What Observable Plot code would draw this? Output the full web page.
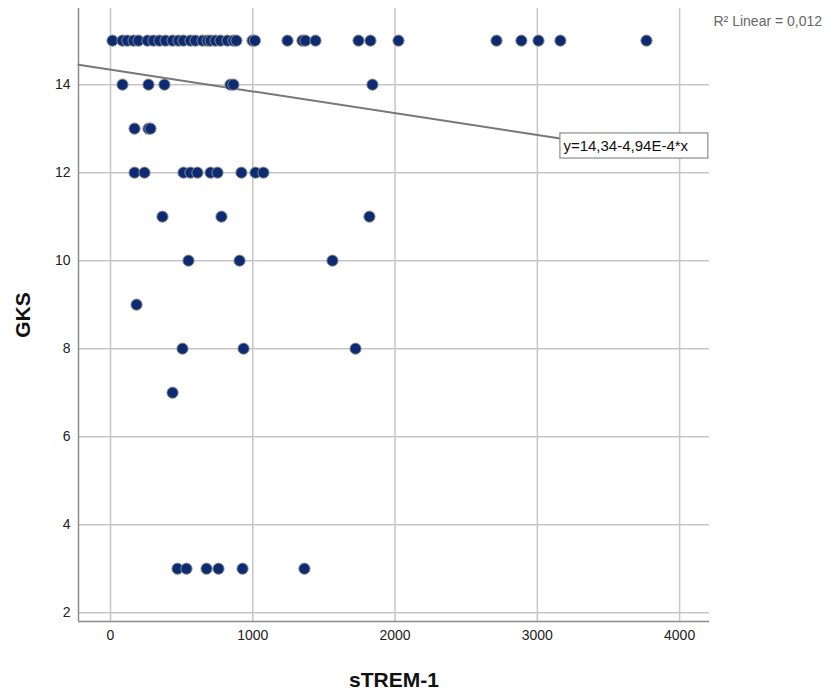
<!DOCTYPE html>
<html>
<head>
<meta charset="utf-8">
<script src="https://cdn.jsdelivr.net/npm/d3@7"></script>
<script src="https://cdn.jsdelivr.net/npm/@observablehq/plot@0.6"></script>
<style>
  html, body { margin: 0; padding: 0; background: #fff; }
  #chart { position: relative; width: 836px; height: 693px; }
</style>
</head>
<body>
<div id="chart"></div>
<script>
// ---- data ----
const strem = [
  // GKS 15
  14, 84, 119, 162, 197, 260, 302, 344, 387, 436, 478, 513, 562, 597, 647, 682, 703, 738, 773, 822, 864, 885,
  998, 1015, 1244, 1349, 1370, 1441, 1743, 1827, 2024, 2713, 2888, 3008, 3162, 3767,
  // GKS 14
  84, 267, 379, 843, 864, 1841,
  // GKS 13
  169, 267, 281,
  // GKS 12
  169, 239, 513, 562, 611, 703, 752, 920, 1019, 1075,
  // GKS 11
  365, 780, 1820,
  // GKS 10
  548, 907, 1560,
  // GKS 9
  183,
  // GKS 8
  506, 935, 1722,
  // GKS 7
  436,
  // GKS 3
  471, 534, 675, 759, 928, 1363
];
const gks = [
  15,15,15,15,15,15,15,15,15,15,15,15,15,15,15,15,15,15,15,15,15,15,
  15,15,15,15,15,15,15,15,15,15,15,15,15,15,
  14,14,14,14,14,14,
  13,13,13,
  12,12,12,12,12,12,12,12,12,12,
  11,11,11,
  10,10,10,
  9,
  8,8,8,
  7,
  3,3,3,3,3,3
];
const xTicks = [0, 1000, 2000, 3000, 4000];
const yTicks = [2, 4, 6, 8, 10, 12, 14];
const xDomain = [-225, 4210];
const yDomain = [1.8, 15.73];
const fitIntercept = 14.34;
const fitSlope = -4.94e-4;
const fitLabel = "y=14,34-4,94E-4*x";
const fitLabelX = 3162;        // where the fit line meets its label box
const r2Label = "R\u00B2 Linear = 0,012";
const xTitle = "sTREM-1";
const yTitle = "GKS";

const points = strem.map((s, i) => ({strem: s, gks: gks[i]}));
const fitLine = [xDomain[0], fitLabelX].map(x => ({x, y: fitIntercept + fitSlope * x}));
const labelBox = [{x1: fitLabelX, x2: 4202, y1: 12.32, y2: 12.89, text: fitLabel, tx: fitLabelX + 15, ty: 12.605}];

const font = "'Liberation Sans', Arial, sans-serif";
const grid = "#c6c6c6";

const plot = Plot.plot({
  width: 836,
  height: 693,
  marginLeft: 78,
  marginRight: 127,
  marginTop: 8,
  marginBottom: 72,
  style: {fontFamily: font, background: "#fff", overflow: "visible"},
  x: {domain: xDomain},
  y: {domain: yDomain},
  marks: [
    Plot.gridX(xTicks, {stroke: grid, strokeOpacity: 1, strokeWidth: 1.5}),
    Plot.gridY(yTicks, {stroke: grid, strokeOpacity: 1, strokeWidth: 1.5}),
    Plot.ruleX([xDomain[0]], {stroke: "#8c8c8c", strokeWidth: 1.5}),
    Plot.ruleY([yDomain[0]], {stroke: "#8c8c8c", strokeWidth: 1.5}),
    Plot.axisX(xTicks, {tickSize: 0, tickPadding: 9, fontSize: 14, fill: "#222", label: null, tickFormat: d => String(d)}),
    Plot.axisY(yTicks, {tickSize: 0, tickPadding: 8, fontSize: 14, fill: "#222", label: null}),
    Plot.line(fitLine, {x: "x", y: "y", stroke: "#777", strokeWidth: 2}),
    Plot.dot(points, {x: "strem", y: "gks", r: 5.6, fill: "#0c2b72", stroke: "#8d8d8d", strokeWidth: 1}),
    Plot.rect(labelBox, {x1: "x1", x2: "x2", y1: "y1", y2: "y2", fill: "#fff", stroke: "#8c8c8c", strokeWidth: 1.2}),
    Plot.text(labelBox, {x: "x1", y: "ty", text: "text", dx: 3, textAnchor: "start", fontSize: 15, fill: "#111", style: "letter-spacing:0.9px"}),
    Plot.text([r2Label], {frameAnchor: "top-right", dx: 4, dy: 13, textAnchor: "start", lineAnchor: "middle", fontSize: 14, fill: "#666", text: d => d}),
    Plot.text([yTitle], {frameAnchor: "left", dx: -55, rotate: -90, textAnchor: "middle", lineAnchor: "middle", fontSize: 21, fontWeight: "bold", fill: "#111", text: d => d}),
    Plot.text([xTitle], {frameAnchor: "bottom", dy: 59, textAnchor: "middle", lineAnchor: "middle", fontSize: 21, fontWeight: "bold", fill: "#111", text: d => d})
  ]
});
document.getElementById("chart").appendChild(plot);
</script>
</body>
</html>
